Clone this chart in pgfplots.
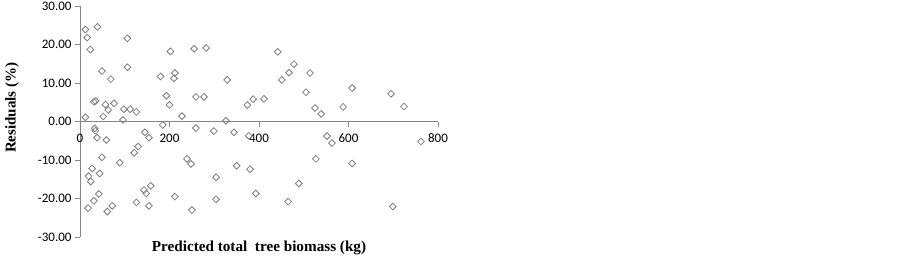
\documentclass[border=0pt]{standalone}
\usepackage{pgfplots}
\usepackage{pgfplotstable}
\pgfplotsset{compat=1.18}
\usepackage{fontspec}
\setmainfont{Liberation Serif}
\newfontfamily\tickfont{Carlito}
\definecolor{axgray}{RGB}{134,134,134}
\definecolor{mkgray}{RGB}{125,125,125}
\pgfplotstableread{
x y
12 23.9
39 24.6
16 21.8
23 18.7
106 21.6
49 13.1
69 11.0
106 14.1
180 11.7
31 5.1
35 5.3
57 4.4
76 4.7
63 3.0
52 1.3
12 1.1
98 3.2
112 3.2
126 2.5
96 0.4
193 6.7
200 4.3
185 -0.9
33 -1.8
34 -2.4
38 -4.2
59 -4.8
145 -2.8
154 -4.2
130 -6.5
121 -8.1
49 -9.3
89 -10.7
27 -12.2
44 -13.5
19 -14.2
24 -15.6
158 -16.7
143 -17.8
148 -18.7
42 -18.8
31 -20.6
18 -22.5
126 -21.0
154 -21.9
72 -21.9
61 -23.4
202 18.2
255 18.9
282 19.1
212 12.6
210 11.2
329 10.8
259 6.4
277 6.4
374 4.3
387 5.8
228 1.4
326 0.2
259 -1.7
299 -2.5
344 -2.8
377 -3.7
239 -9.7
248 -11.0
304 -14.5
350 -11.5
380 -12.4
393 -18.7
212 -19.5
304 -20.2
250 -23.0
442 18.1
451 10.8
467 12.7
478 14.9
514 12.6
505 7.6
525 3.5
539 2.0
588 3.8
608 8.7
411 5.9
552 -3.8
563 -5.6
527 -9.7
608 -10.9
489 -16.1
465 -20.8
695 7.2
724 3.9
762 -5.2
699 -22.1
}\resid
\begin{document}
\begin{tikzpicture}[x=1pt,y=1pt]
\useasboundingbox (0,0) rectangle (902,-258);
\begin{axis}[
  scale only axis,
  width=358pt, height=231pt,
  at={(80pt,-237pt)}, anchor=south west,
  xmin=0, xmax=800, ymin=-30, ymax=30,
  axis x line=middle, axis y line=left,
  axis line style={-, draw=axgray, line width=0.9pt},
  hide obscured x ticks=false, hide obscured y ticks=false,
  xtick={0,200,400,600,800}, ytick={-30,-20,-10,0,10,20,30},
  tick align=outside,
  major tick length=5pt,
  tick style={draw=axgray, line width=0.9pt},
  /pgf/number format/assume math mode=true,
  ticklabel style={font=\tickfont\fontsize{13}{15}\selectfont},
  yticklabel style={/pgf/number format/.cd, fixed, fixed zerofill, precision=2},
  xticklabel style={yshift=-4pt},
  every axis x label/.style={at={(axis description cs:0.5,-0.048)}, anchor=center, font=\bfseries\fontsize{15.2}{17}\selectfont},
  every axis y label/.style={at={(axis description cs:-0.19,0.56)}, rotate=90, anchor=center, font=\bfseries\fontsize{15}{17}\selectfont},
  xlabel={Predicted total\ \ tree biomass (kg)},
  ylabel={Residuals (\%)},
  clip=false,
]
\addplot[only marks, mark=square, mark size=2.4pt, mark options={rotate=45, draw=mkgray, line width=0.8pt, fill=none}] table[x=x,y=y] {\resid};
\end{axis}
\end{tikzpicture}
\end{document}
